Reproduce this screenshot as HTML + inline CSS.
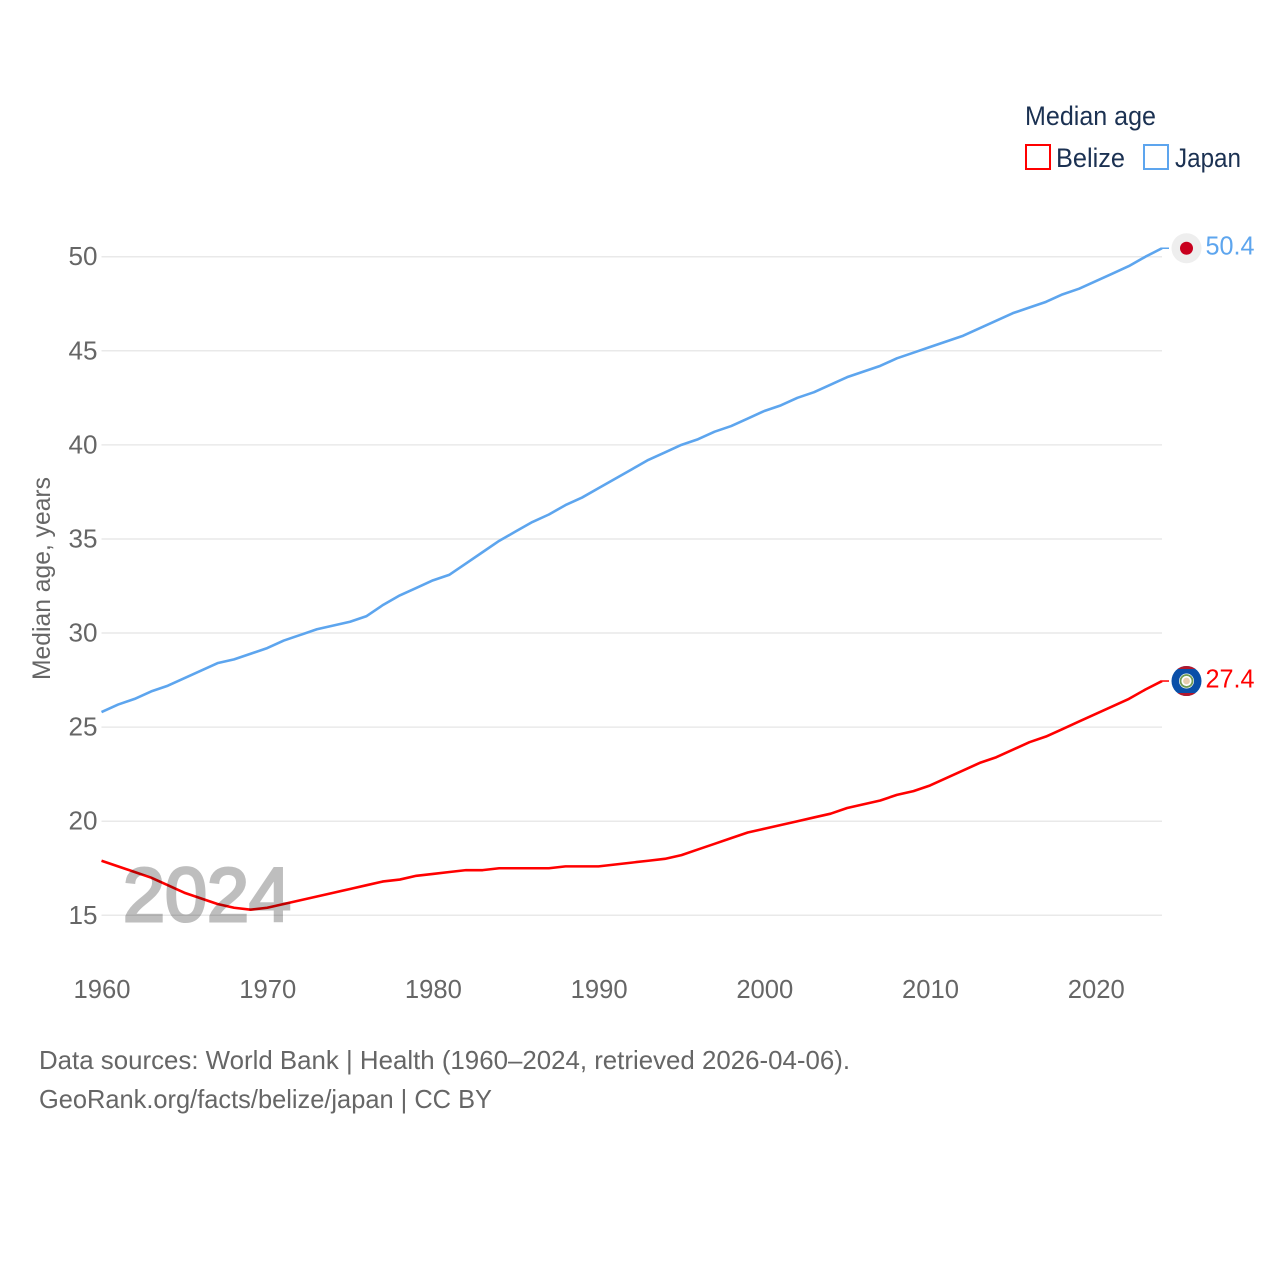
<!DOCTYPE html>
<html lang="en">
<head>
<meta charset="utf-8">
<title>Median age: Belize and Japan</title>
<style>
html,body{margin:0;padding:0;background:#fff;}
svg{display:block;font-family:"Liberation Sans",sans-serif;}
</style>
</head>
<body>
<svg id="chart" width="1280" height="1280" viewBox="0 0 1280 1280" xmlns="http://www.w3.org/2000/svg">
  <rect x="0" y="0" width="1280" height="1280" fill="#ffffff"/>
  <g id="grid"></g>
  <g id="yticks"></g>
  <g id="xticks"></g>
  <text transform="translate(50,680) rotate(-90)" font-size="25" fill="#666666" textLength="203" lengthAdjust="spacingAndGlyphs">Median age, years</text>

  <g id="series"></g>

  <text x="123" y="921" font-size="76" fill="#000000" stroke="#000000" stroke-width="3" opacity="0.25" textLength="168" lengthAdjust="spacingAndGlyphs">2024</text>

  <g id="end-markers"></g>

  <text x="1025" y="125" font-size="27" fill="#1b3152" textLength="131" lengthAdjust="spacingAndGlyphs">Median age</text>
  <rect x="1026" y="145" width="24" height="24" fill="none" stroke="#ff0000" stroke-width="2"/>
  <text x="1056" y="167" font-size="27" fill="#1b3152" textLength="69" lengthAdjust="spacingAndGlyphs">Belize</text>
  <rect x="1144" y="145" width="24" height="24" fill="none" stroke="#5da5ee" stroke-width="2"/>
  <text x="1175" y="167" font-size="27" fill="#1b3152" textLength="66" lengthAdjust="spacingAndGlyphs">Japan</text>

  <text x="39" y="1069" font-size="26" fill="#666666" textLength="811" lengthAdjust="spacingAndGlyphs">Data sources: World Bank | Health (1960–2024, retrieved 2026-04-06).</text>
  <text x="39" y="1108" font-size="26" fill="#666666" textLength="453" lengthAdjust="spacingAndGlyphs">GeoRank.org/facts/belize/japan | CC BY</text>
</svg>
<script>
const years = [1960,1961,1962,1963,1964,1965,1966,1967,1968,1969,1970,1971,1972,1973,1974,1975,1976,1977,1978,1979,1980,1981,1982,1983,1984,1985,1986,1987,1988,1989,1990,1991,1992,1993,1994,1995,1996,1997,1998,1999,2000,2001,2002,2003,2004,2005,2006,2007,2008,2009,2010,2011,2012,2013,2014,2015,2016,2017,2018,2019,2020,2021,2022,2023,2024];
const japanValues = [25.8,26.2,26.5,26.9,27.2,27.6,28.0,28.4,28.6,28.9,29.2,29.6,29.9,30.2,30.4,30.6,30.9,31.5,32.0,32.4,32.8,33.1,33.7,34.3,34.9,35.4,35.9,36.3,36.8,37.2,37.7,38.2,38.7,39.2,39.6,40.0,40.3,40.7,41.0,41.4,41.8,42.1,42.5,42.8,43.2,43.6,43.9,44.2,44.6,44.9,45.2,45.5,45.8,46.2,46.6,47.0,47.3,47.6,48.0,48.3,48.7,49.1,49.5,50.0,50.45];
const belizeValues = [17.9,17.6,17.3,17.0,16.6,16.2,15.9,15.6,15.4,15.3,15.4,15.6,15.8,16.0,16.2,16.4,16.6,16.8,16.9,17.1,17.2,17.3,17.4,17.4,17.5,17.5,17.5,17.5,17.6,17.6,17.6,17.7,17.8,17.9,18.0,18.2,18.5,18.8,19.1,19.4,19.6,19.8,20.0,20.2,20.4,20.7,20.9,21.1,21.4,21.6,21.9,22.3,22.7,23.1,23.4,23.8,24.2,24.5,24.9,25.3,25.7,26.1,26.5,27.0,27.45];
const yTickValues = [15,20,25,30,35,40,45,50];
const xTickValues = [1960,1970,1980,1990,2000,2010,2020];
const japanEndLabel = "50.4";
const belizeEndLabel = "27.4";

const NS = "http://www.w3.org/2000/svg";
function xScale(year){ return 101.5 + (year - 1960) * (1162 - 101.5) / 64; }
function yScale(value){ return 915.3 - (value - 15) * 18.817; }
function make(tag, attrs, parent){
  const el = document.createElementNS(NS, tag);
  for (const k in attrs) el.setAttribute(k, attrs[k]);
  parent.appendChild(el);
  return el;
}
const gridG = document.getElementById('grid');
const yG = document.getElementById('yticks');
const xG = document.getElementById('xticks');
const seriesG = document.getElementById('series');
const markerG = document.getElementById('end-markers');

yTickValues.forEach(function(v){
  const line = make('line', {x1:101.5, x2:1162, y1:yScale(v), y2:yScale(v), stroke:'#e9e9e9', 'stroke-width':1.5}, gridG);
  
  
  const t = make('text', {x:97.5, y:yScale(v)+8.5, 'text-anchor':'end', 'font-size':26, fill:'#666666', textLength:29, lengthAdjust:'spacingAndGlyphs'}, yG);
  t.textContent = v;
  
  
});
xTickValues.forEach(function(v){
  const t = make('text', {x:xScale(v)+0.5, y:998, 'text-anchor':'middle', 'font-size':26, fill:'#666666', textLength:57, lengthAdjust:'spacingAndGlyphs'}, xG);
  t.textContent = v;
  
  
});
function pathFor(vals){
  return vals.map(function(v,i){ return (i ? 'L' : 'M') + xScale(years[i]).toFixed(2) + ' ' + yScale(v).toFixed(2); }).join(' ');
}
const japanLine = make('path', {d:pathFor(japanValues), fill:'none', stroke:'#5da5ee', 'stroke-width':2.6, 'stroke-linejoin':'round'}, seriesG);


const belizeLine = make('path', {d:pathFor(belizeValues), fill:'none', stroke:'#ff0000', 'stroke-width':2.6, 'stroke-linejoin':'round'}, seriesG);



const lastJapan = japanValues[japanValues.length - 1];
const lastBelize = belizeValues[belizeValues.length - 1];
const japanY = yScale(lastJapan);
const belizeY = yScale(lastBelize);

const japanConn = make('line', {x1:1162, x2:1169, y1:japanY, y2:japanY, stroke:'#5da5ee', 'stroke-width':1.5}, markerG);


const belizeConn = make('line', {x1:1162, x2:1169, y1:belizeY, y2:belizeY, stroke:'#ff0000', 'stroke-width':1.5}, markerG);



const japanFlag = make('g', {transform:'translate(1186.5,' + japanY + ')'}, markerG);


make('circle', {cx:0, cy:0, r:15, fill:'#eeeeee'}, japanFlag);
make('circle', {cx:0, cy:0, r:6.5, fill:'#c8001e'}, japanFlag);

const belizeFlag = make('g', {transform:'translate(1186.5,' + belizeY + ')'}, markerG);


make('circle', {cx:0, cy:0, r:15, fill:'#0a4fa8'}, belizeFlag);
make('path', {d:'M-9 -12 A15 15 0 0 1 9 -12 Z', fill:'#b3172c'}, belizeFlag);
make('path', {d:'M-9 12 A15 15 0 0 0 9 12 Z', fill:'#b3172c'}, belizeFlag);
make('circle', {cx:0, cy:0, r:7.5, fill:'#ffffff'}, belizeFlag);
make('circle', {cx:0, cy:0, r:6, fill:'none', stroke:'#6f9a52', 'stroke-width':1.8}, belizeFlag);
make('circle', {cx:0, cy:0, r:3.4, fill:'#e8cdb0'}, belizeFlag);

const japanLabel = make('text', {x:1205.5, y:japanY+6.5, 'font-size':26, fill:'#5da5ee', textLength:49, lengthAdjust:'spacingAndGlyphs'}, markerG);
japanLabel.textContent = japanEndLabel;


const belizeLabel = make('text', {x:1205.5, y:belizeY+6.5, 'font-size':26, fill:'#ff0000', textLength:49, lengthAdjust:'spacingAndGlyphs'}, markerG);
belizeLabel.textContent = belizeEndLabel;


</script>
</body>
</html>
